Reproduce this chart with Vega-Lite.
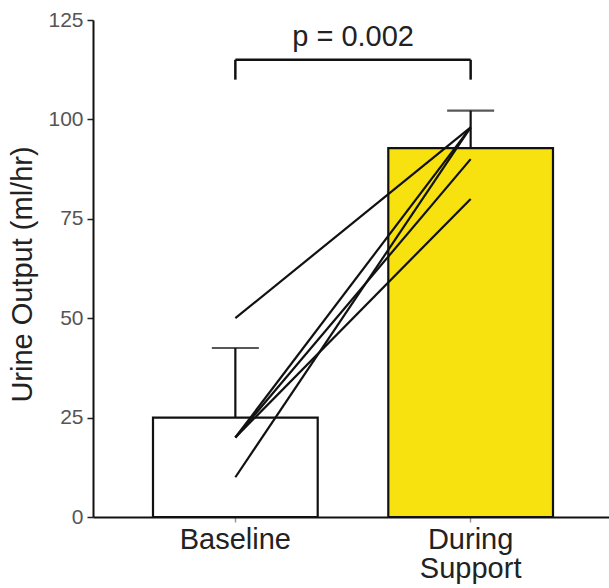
{
  "$schema": "https://vega.github.io/schema/vega-lite/v6.json",
  "width": 516,
  "height": 497,
  "autosize": "none",
  "padding": {"left": 93, "top": 20, "right": 0, "bottom": 71},
  "background": "white",
  "config": {
    "view": {"stroke": null},
    "font": "Liberation Sans",
    "axis": {"grid": false, "domainColor": "#111", "domainWidth": 2, "tickColor": "#222", "tickWidth": 1.5,
             "labelFont": "Liberation Sans", "titleFont": "Liberation Sans"}
  },
  "datasets": {
    "bars": [
      {"condition": "Baseline", "mean": 25, "upper": 42.5},
      {"condition": "During Support", "mean": 92.8, "upper": 102.2}
    ],
    "patients": [
      {"patient": "P1", "condition": "Baseline", "value": 50},
      {"patient": "P1", "condition": "During Support", "value": 98},
      {"patient": "P2", "condition": "Baseline", "value": 20},
      {"patient": "P2", "condition": "During Support", "value": 98},
      {"patient": "P3", "condition": "Baseline", "value": 10},
      {"patient": "P3", "condition": "During Support", "value": 98},
      {"patient": "P4", "condition": "Baseline", "value": 20},
      {"patient": "P4", "condition": "During Support", "value": 90},
      {"patient": "P5", "condition": "Baseline", "value": 20},
      {"patient": "P5", "condition": "During Support", "value": 80}
    ],
    "bracket": [
      {"condition": "Baseline", "low": 110, "high": 115},
      {"condition": "During Support", "low": 110, "high": 115}
    ]
  },
  "encoding": {
    "x": {
      "field": "condition", "type": "nominal",
      "sort": ["Baseline", "During Support"],
      "scale": {"domain": ["Baseline", "During Support"], "range": [0, 520], "paddingInner": 0.3, "paddingOuter": 0.255},
      "axis": {
        "title": null, "labelAngle": 0, "labelFontSize": 29, "labelColor": "#222",
        "tickSize": 5, "tickColor": "#999", "labelPadding": 3, "labelLineHeight": 29,
        "labelExpr": "datum.label == 'During Support' ? ['During', 'Support'] : datum.label"
      }
    }
  },
  "layer": [
    {
      "data": {"name": "bars"},
      "mark": {"type": "bar", "stroke": "#111", "strokeWidth": 2.2},
      "encoding": {
        "y": {
          "field": "mean", "type": "quantitative",
          "scale": {"domain": [0, 125], "nice": false},
          "axis": {
            "title": "Urine Output (ml/hr)", "titleFontSize": 29, "titleFontWeight": "normal", "titleColor": "#222",
            "titlePadding": 10, "titleY": 254, "values": [0, 25, 50, 75, 100, 125], "labelFontSize": 21, "labelColor": "#555",
            "tickSize": 6, "labelPadding": 4
          }
        },
        "fill": {
          "field": "condition", "type": "nominal",
          "scale": {"domain": ["Baseline", "During Support"], "range": ["#ffffff", "#F7E10E"]},
          "legend": null
        }
      }
    },
    {
      "data": {"name": "bars"},
      "mark": {"type": "rule", "color": "#111", "strokeWidth": 2.2},
      "encoding": {
        "y": {"field": "mean", "type": "quantitative"},
        "y2": {"field": "upper"}
      }
    },
    {
      "data": {"name": "bars"},
      "mark": {"type": "tick", "orient": "horizontal", "color": "#111", "thickness": 2.2, "size": 47},
      "encoding": {
        "y": {"field": "upper", "type": "quantitative"}
      }
    },
    {
      "data": {"name": "patients"},
      "mark": {"type": "line", "color": "#111", "strokeWidth": 2.2},
      "encoding": {
        "y": {"field": "value", "type": "quantitative"},
        "detail": {"field": "patient"}
      }
    },
    {
      "data": {"name": "bracket"},
      "mark": {"type": "rule", "color": "#111", "strokeWidth": 2.5},
      "encoding": {
        "y": {"field": "low", "type": "quantitative"},
        "y2": {"field": "high"}
      }
    },
    {
      "data": {"values": [{"from": "Baseline", "to": "During Support", "level": 115}]},
      "mark": {"type": "rule", "color": "#111", "strokeWidth": 2.5},
      "encoding": {
        "x": {"field": "from", "type": "nominal"},
        "x2": {"field": "to"},
        "y": {"field": "level", "type": "quantitative"}
      }
    },
    {
      "data": {"values": [{"condition": "Baseline", "label": "p = 0.002", "level": 120.7}]},
      "mark": {"type": "text", "fontSize": 29, "color": "#222", "baseline": "middle", "align": "center"},
      "encoding": {
        "x": {"field": "condition", "type": "nominal", "bandPosition": 1.215},
        "y": {"field": "level", "type": "quantitative"},
        "text": {"field": "label"}
      }
    }
  ]
}
